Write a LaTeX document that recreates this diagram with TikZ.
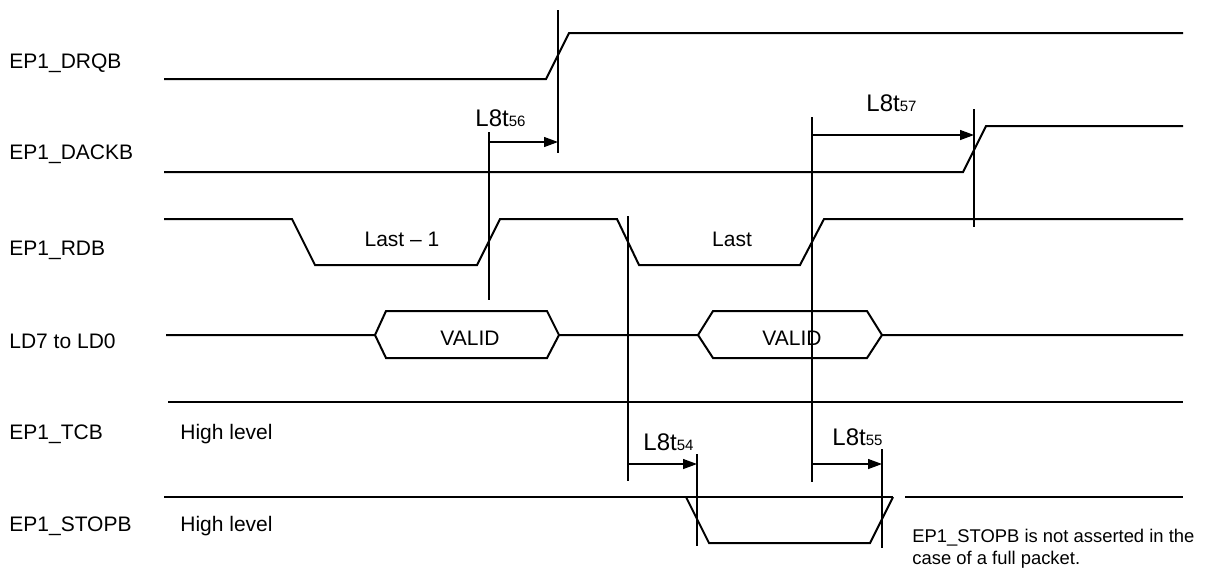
\documentclass[tikz,border=0pt]{standalone}
\usepackage{fontspec}
\setmainfont{Liberation Sans}
\usetikzlibrary{arrows.meta}
\tikzset{
  wave/.style={line width=1pt},
  tline/.style={line width=0.6pt},
  sig/.style={anchor=base west, inner sep=0pt, font=\fontsize{10.5}{12.6}\selectfont},
  tlabel/.style={anchor=base west, inner sep=0pt, font=\fontsize{12}{14}\selectfont},
}
\newcommand{\tsub}[1]{{\fontsize{7.5}{9}\selectfont #1}}
\begin{document}
\begin{tikzpicture}[x=0.5pt, y=-0.5pt, >={Triangle[length=7pt,width=5pt]}]
\useasboundingbox (0,0) rectangle (1208,570);
% Signalnamen
\node[sig] (drqb) at (9,68.5) {EP1\_DRQB};
\node[sig] (dackb) at (9,159.5) {EP1\_DACKB};
\node[sig] (rdb) at (9,255.5) {EP1\_RDB};
\node[sig] (ld) at (9,348.5) {LD7 to LD0};
\node[sig] (tcb) at (9,439.5) {EP1\_TCB};
\node[sig] (stopb) at (9,531.5) {EP1\_STOPB};
\node[sig] (tcbhigh) at (180,439.5) {High level};
\node[sig] (stopbhigh) at (180,531.5) {High level};
% EP1_DRQB
\draw[wave] (164,79) -- (546,79) -- (569,33) -- (1183,33);
% EP1_DACKB
\draw[wave] (164,172) -- (963,172) -- (986,126) -- (1183,126);
% EP1_RDB
\draw[wave] (164,219) -- (292,219) -- (315,265) -- (477,265) -- (500,219) -- (617,219)
  -- (639,265) -- (800,265) -- (824,219) -- (1183,219);
\node[sig, anchor=base] (last1) at (402,246.5) {Last – 1};
\node[sig, anchor=base] (last) at (732,246.5) {Last};
% LD7 to LD0
\draw[wave] (166,335) -- (375,335) -- (386,311) -- (547,311) -- (559,335) -- (698,335)
  -- (713,311) -- (867,311) -- (882,335) -- (1183,335);
\draw[wave] (375,335) -- (386,358) -- (547,358) -- (559,335);
\draw[wave] (698,335) -- (713,358) -- (867,358) -- (882,335);
\node[sig, anchor=base] (valid1) at (470,345.5) {VALID};
\node[sig, anchor=base] (valid2) at (792,345.5) {VALID};
% EP1_TCB
\draw[wave] (168,402) -- (1183,402);
% EP1_STOPB
\draw[wave] (164,497) -- (893,497);
\draw[wave] (905,497) -- (1183,497);
\draw[wave] (686,497) -- (709,543) -- (870,543) -- (893,497);
\node[anchor=north west, inner sep=0pt, align=left, font=\fontsize{9.2}{11}\selectfont]
  (note) at (912,528.5) {EP1\_STOPB is not asserted in the\\case of a full packet.};
% Zeitmarken
\draw[tline] (558,10) -- (558,153);
\draw[tline] (489,132) -- (489,300);
\draw[tline] (974,109) -- (974,227);
\draw[tline] (812,117) -- (812,482);
\draw[tline] (628,216) -- (628,481);
\draw[tline] (697,454) -- (697,546);
\draw[tline] (882,449) -- (882,548);
% Zeiten
\coordinate (t56a) at (489,142); \coordinate (t56b) at (558,142);
\coordinate (t57a) at (812,135); \coordinate (t57b) at (974,135);
\coordinate (t54a) at (628,464); \coordinate (t54b) at (697,464);
\coordinate (t55a) at (812,464); \coordinate (t55b) at (882,464);
\draw[tline, ->] (t56a) -- (t56b);
\draw[tline, ->] (t57a) -- (t57b);
\draw[tline, ->] (t54a) -- (t54b);
\draw[tline, ->] (t55a) -- (t55b);
\node[tlabel] (l56) at (475,126.5) {L8t\tsub{56}};
\node[tlabel] (l57) at (866,111.5) {L8t\tsub{57}};
\node[tlabel] (l54) at (643,450.5) {L8t\tsub{54}};
\node[tlabel] (l55) at (832,445.5) {L8t\tsub{55}};
\end{tikzpicture}
\end{document}
